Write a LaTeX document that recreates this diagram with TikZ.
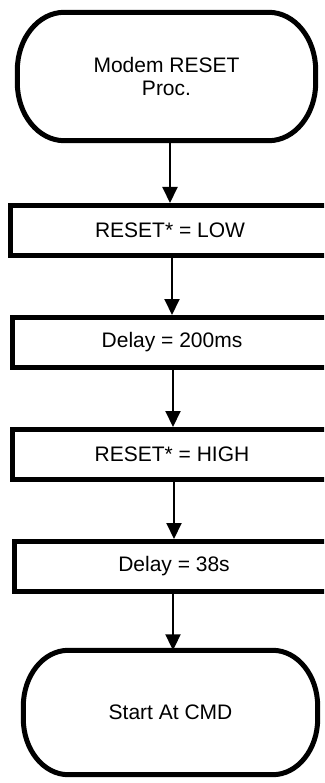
\documentclass[tikz,border=0pt]{standalone}
\usepackage{fontspec}
\setmainfont{Liberation Sans}
\usetikzlibrary{arrows.meta,calc}
\tikzset{
  term/.style={draw=none, inner sep=0pt, align=center, font=\fontsize{21}{23}\selectfont},
  termline/.style={draw=black, line width=5pt, line join=round},
  procbox/.style={draw=black, line width=5pt, fill=white, inner sep=0pt,
    minimum height=50pt, font=\fontsize{21}{23}\selectfont},
  flow/.style={line width=2pt, -{Triangle[width=15pt,length=16pt]}}
}
% #1 node name, #2 horizontal corner radius, #3 vertical corner radius
\newcommand\myterminal[3]{%
  \draw[termline]
    ($(#1.north west)+(#2,0)$) -- ($(#1.north east)+(-#2,0)$)
    .. controls ($(#1.north east)+({-#2*0.448},0)$) and ($(#1.north east)+(0,{#3*0.448})$) .. ($(#1.north east)+(0,#3)$)
    -- ($(#1.south east)+(0,-#3)$)
    .. controls ($(#1.south east)+(0,{-#3*0.448})$) and ($(#1.south east)+({-#2*0.448},0)$) .. ($(#1.south east)+(-#2,0)$)
    -- ($(#1.south west)+(#2,0)$)
    .. controls ($(#1.south west)+({#2*0.448},0)$) and ($(#1.south west)+(0,{-#3*0.448})$) .. ($(#1.south west)+(0,-#3)$)
    -- ($(#1.north west)+(0,#3)$)
    .. controls ($(#1.north west)+(0,{#3*0.448})$) and ($(#1.north west)+({#2*0.448},0)$) .. ($(#1.north west)+(#2,0)$)
    -- cycle;}
\begin{document}
\begin{tikzpicture}[x=1pt,y=-1pt]
\fill[white] (0,0) rectangle (324,783);
\clip (0,0) rectangle (324,783);
\node[term, minimum width=298pt, minimum height=128pt] (start) at (166.5,76.5) {Modem RESET\\Proc.};
\myterminal{start}{47}{58}
\node[procbox, minimum width=320pt] (b1) at (170,230.5) {RESET* = LOW};
\node[procbox, minimum width=320pt] (b2) at (172,342.5) {Delay = 200ms};
\node[procbox, minimum width=320pt] (b3) at (172,454.5) {RESET* = HIGH};
\node[procbox, minimum width=320pt] (b4) at (174,566.5) {Delay = 38s};
\node[term, minimum width=294pt, minimum height=124pt] (end) at (170.5,712.5) {Start At CMD};
\myterminal{end}{45}{56}
\coordinate (a1) at (170,140.5);
\draw[flow] (a1) -- (a1 |- b1.north);
\draw[flow] ([xshift=2pt]b1.south) -- ([xshift=2pt]b1.south |- b2.north);
\draw[flow] ([xshift=1pt]b2.south) -- ([xshift=1pt]b2.south |- b3.north);
\draw[flow] ([xshift=2pt]b3.south) -- ([xshift=2pt]b3.south |- b4.north);
\draw[flow] ([xshift=-1pt]b4.south) -- ([xshift=-1pt]b4.south |- end.north);
\end{tikzpicture}
\end{document}
